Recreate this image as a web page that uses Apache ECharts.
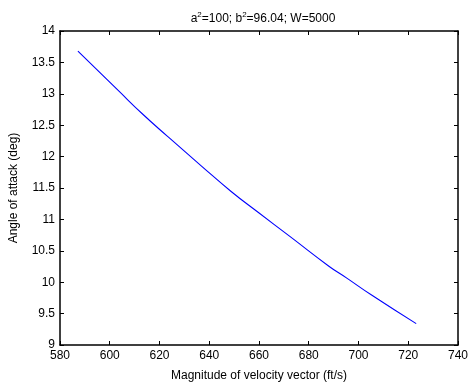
<!DOCTYPE html>
<html>
<head>
<meta charset="utf-8">
<script src="https://cdn.jsdelivr.net/npm/echarts@6/dist/echarts.min.js"></script>
<style>html,body{margin:0;padding:0;background:#fff;}#c{width:471px;height:387px;}</style>
</head>
<body>
<div id="c"></div>
<script>
var velocity = [587.2, 603.6, 613.4, 623.0, 637.0, 648.8, 659.9, 672.4, 688.1, 695.3, 705.1, 723.2];
var alpha    = [13.68, 13.045, 12.67, 12.33, 11.845, 11.445, 11.105, 10.73, 10.255, 10.065, 9.80, 9.34];
var xTicks = [580, 600, 620, 640, 660, 680, 700, 720, 740];
var yTicks = [9, 9.5, 10, 10.5, 11, 11.5, 12, 12.5, 13, 13.5, 14];

var FONT = 'Liberation Sans, Arial, sans-serif';
var FS = 12;
var chart = echarts.init(document.getElementById('c'), null, {renderer: 'canvas'});
var data = velocity.map(function (v, i) { return [v, alpha[i]]; });

function xa(pos, show) {
  return {
    type: 'value', position: pos, min: xTicks[0], max: xTicks[xTicks.length - 1], interval: 20,
    name: show ? 'Magnitude of velocity vector (ft/s)' : '', nameLocation: 'middle', nameGap: 25,
    nameTextStyle: {color: '#000', fontSize: FS, fontFamily: FONT},
    axisLine: {show: true, onZero: false, lineStyle: {color: '#000', width: 1.5}},
    axisTick: {show: true, inside: true, length: 4, lineStyle: {color: '#000', width: 1}},
    axisLabel: {show: show, color: '#000', fontSize: FS, fontFamily: FONT, margin: 5},
    splitLine: {show: false}
  };
}
function ya(pos, show) {
  return {
    type: 'value', position: pos, min: yTicks[0], max: yTicks[yTicks.length - 1], interval: 0.5,
    name: show ? 'Angle of attack (deg)' : '', nameLocation: 'middle', nameGap: 40, nameRotate: 90,
    nameTextStyle: {color: '#000', fontSize: FS, fontFamily: FONT},
    axisLine: {show: true, onZero: false, lineStyle: {color: '#000', width: 1.5}},
    axisTick: {show: true, inside: true, length: 4, lineStyle: {color: '#000', width: 1}},
    axisLabel: {show: show, color: '#000', fontSize: FS, fontFamily: FONT, margin: 5},
    splitLine: {show: false}
  };
}

chart.setOption({
  animation: false,
  backgroundColor: '#fff',
  title: {
    text: 'a{s|2}=100; b{s|2}=96.04; W=5000',
    left: 258, top: 6, textAlign: 'center',
    textStyle: {
      fontSize: FS, fontWeight: 'normal', color: '#000', fontFamily: FONT,
      rich: {s: {fontSize: 8, fontFamily: FONT, color: '#000', padding: [0, 0, 7, 0]}}
    }
  },
  grid: {left: 55, right: 9, top: 31, bottom: 37, containLabel: false},
  xAxis: [xa('bottom', true), xa('top', false)],
  yAxis: [ya('left', true), ya('right', false)],
  series: [{
    type: 'line', data: data, xAxisIndex: 0, yAxisIndex: 0,
    showSymbol: false, smooth: 0.5,
    lineStyle: {color: '#0000ff', width: 1.1}
  }]
});
</script>
</body>
</html>
